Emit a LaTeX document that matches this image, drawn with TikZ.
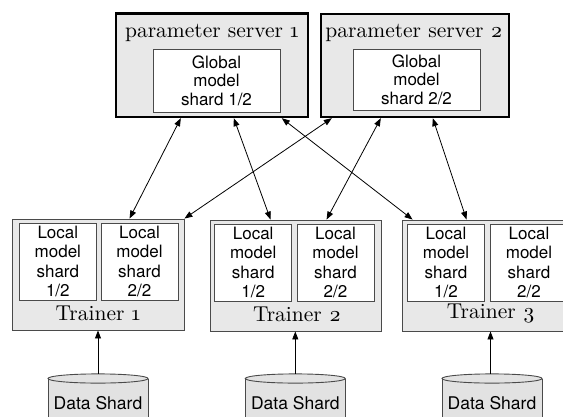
\documentclass[tikz,border=0pt]{standalone}
\usepackage{fontspec}
\setmainfont{Latin Modern Roman}[Numbers=OldStyle]
\newfontfamily\titlefont{lmroman10-regular.otf}[Numbers=OldStyle]
\newfontfamily\helv{TeX Gyre Heros}
\usetikzlibrary{arrows.meta}

\definecolor{boxgray}{HTML}{E8E8E8}
\definecolor{edgegray}{HTML}{4A4A4A}
\definecolor{cylgray}{HTML}{E2E2E2}

\tikzset{
  server/.style={draw=black, line width=2.4pt, fill=boxgray, inner sep=0pt},
  trainer/.style={draw=edgegray, line width=0.9pt, fill=boxgray, inner sep=0pt,
    minimum height=111pt},
  shardbox/.style={draw=edgegray, line width=0.9pt, fill=white, inner sep=0pt,
    minimum width=77pt, minimum height=77pt, align=center,
    font=\helv\fontsize{17}{19.3}\selectfont},
  globalbox/.style={draw=edgegray, line width=0.9pt, fill=white, inner sep=0pt,
    minimum width=127pt, align=center,
    font=\helv\fontsize{17}{18.6}\selectfont},
  title/.style={font=\titlefont\fontsize{21.5}{23}\selectfont, inner sep=0pt},
  link/.style={line width=0.8pt, {Triangle[length=8pt,width=6pt]}-{Triangle[length=8pt,width=6pt]}},
  feed/.style={line width=0.8pt, -{Triangle[length=8pt,width=6pt]}},
  cylbody/.style={draw=edgegray, line width=0.9pt, fill=cylgray},
  cyltext/.style={font=\helv\fontsize{17.5}{19}\selectfont, inner sep=0pt},
}

\begin{document}
\begin{tikzpicture}[x=1pt, y=-1pt]
\useasboundingbox (0,0) rectangle (563,416);
\begin{scope}
\clip (0,0) rectangle (563,416);

% parameter servers
\node[server, minimum width=192pt, minimum height=103.5pt] (ps1) at (212,65.25) {};
\node[server, minimum width=188pt, minimum height=103pt] (ps2) at (415,65.5) {};
\node[title] (ps1t) at (212,33) {parameter server 1};
\node[title] (ps2t) at (414,33) {parameter server 2};
\node[globalbox, minimum height=63pt] (g1) at (216.5,80.5) {Global\\model\\shard 1/2};
\node[globalbox, minimum height=61pt] (g2) at (416.5,79.5) {Global\\model\\shard 2/2};

% trainers
\node[trainer, minimum width=171.3pt] (t1) at (98.35,274.5) {};
\node[trainer, minimum width=171pt] (t2) at (295.5,275.5) {};
\node[trainer, minimum width=173pt] (t3) at (488.5,275.5) {};

\node[shardbox] (l11) at (57.85,261.5) {Local\\model\\shard\\1/2};
\node[shardbox] (l12) at (139.5,261.5) {Local\\model\\shard\\2/2};
\node[shardbox] (l21) at (253.2,262.5) {Local\\model\\shard\\1/2};
\node[shardbox] (l22) at (335.5,262.5) {Local\\model\\shard\\2/2};
\node[shardbox] (l31) at (446,262.5) {Local\\model\\shard\\1/2};
\node[shardbox] (l32) at (529,262.5) {Local\\model\\shard\\2/2};

\node[title] (t1t) at (98,313) {Trainer 1};
\node[title] (t2t) at (297,314) {Trainer 2};
\node[title] (t3t) at (491,314) {Trainer 3};

% data shards (cylinders running off the bottom edge)
\foreach \n/\cx in {1/98, 2/295.3, 3/492} {
  \path[cylbody] (\cx-50,378.5) -- (\cx-50,430) -- (\cx+50,430) -- (\cx+50,378.5);
  \path[cylbody] (\cx,378.5) ellipse [x radius=50, y radius=4.6];
  \coordinate (d\n) at (\cx,373.9);
  \node[cyltext] (d\n t) at (\cx,403.5) {Data Shard};
}

% server <-> trainer links
\draw[link] ([xshift=66pt]ps1.south west) -- ([xshift=117.3pt]t1.north west);
\draw[link] ([xshift=119pt]ps1.south west) -- ([xshift=61pt]t2.north west);
\draw[link] ([xshift=167pt]ps1.south west) -- ([xshift=11pt]t3.north west);
\draw[link] ([xshift=12pt]ps2.south west) -- (t1.north east);
\draw[link] ([xshift=61pt]ps2.south west) -- ([xshift=117pt]t2.north west);
\draw[link] ([xshift=113pt]ps2.south west) -- ([xshift=65pt]t3.north west);

% data feeds
\draw[feed] (d1) -- (d1 |- t1.south);
\draw[feed] (d2) -- (d2 |- t2.south);
\draw[feed] ([xshift=-1.5pt]d3) -- ([xshift=-1.5pt]d3 |- t3.south);
\end{scope}
\end{tikzpicture}
\end{document}
